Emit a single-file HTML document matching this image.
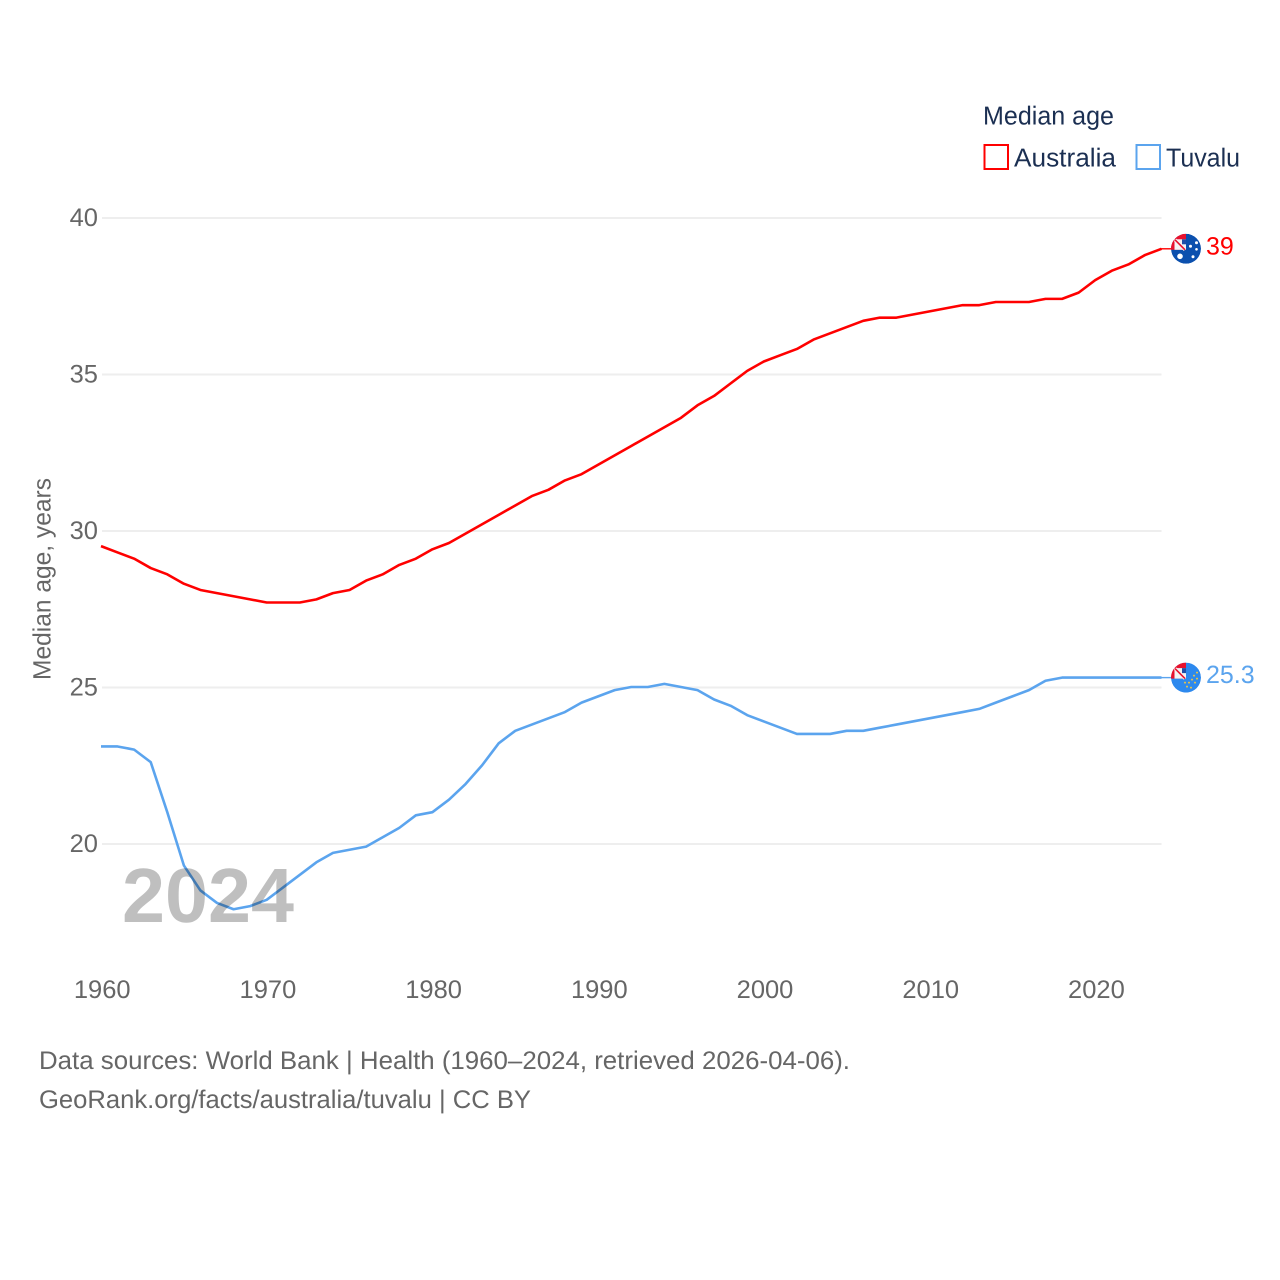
<!DOCTYPE html>
<html lang="en">
<head>
<meta charset="utf-8">
<title>Median age: Australia and Tuvalu</title>
<style>
html,body{margin:0;padding:0;background:#fff;width:1280px;height:1280px;overflow:hidden}
svg{display:block;font-family:"Liberation Sans",sans-serif;text-rendering:geometricPrecision}
</style>
</head>
<body>
<svg id="chart" xmlns="http://www.w3.org/2000/svg" width="1280" height="1280" viewBox="0 0 1280 1280">
  <defs>
    <clipPath id="flag-clip"><circle cx="0" cy="0" r="15"></circle></clipPath>
  </defs>
  <rect x="0" y="0" width="1280" height="1280" fill="#ffffff"></rect>
  <g id="grid"></g>
  <g id="y-ticks"></g>
  <g id="x-ticks"></g>
  <text transform="translate(50.5,680) rotate(-90)" font-size="25" fill="#666666" textLength="202" lengthAdjust="spacingAndGlyphs">Median age, years</text>
  <g id="series"></g>
  <text x="122" y="922" font-size="77" font-weight="700" fill="#000000" fill-opacity="0.25" textLength="172" lengthAdjust="spacingAndGlyphs">2024</text>
  <g id="end-labels"></g>

  <g>
    <text x="983" y="124.5" font-size="26" fill="#1b2f52" textLength="131" lengthAdjust="spacingAndGlyphs">Median age</text>
    <g>
      <rect x="984.5" y="145" width="23.5" height="24" fill="none" stroke="#ff0000" stroke-width="2"></rect>
      <text x="1014" y="166.5" font-size="26" fill="#1b2f52" textLength="102" lengthAdjust="spacingAndGlyphs">Australia</text>
    </g>
    <g>
      <rect x="1136.5" y="145" width="23.5" height="24" fill="none" stroke="#5ba4ee" stroke-width="2"></rect>
      <text x="1166" y="166.5" font-size="26" fill="#1b2f52" textLength="74" lengthAdjust="spacingAndGlyphs">Tuvalu</text>
    </g>
  </g>

  <text x="39" y="1069" font-size="25.5" fill="#666666" textLength="811" lengthAdjust="spacingAndGlyphs">Data sources: World Bank | Health (1960–2024, retrieved 2026-04-06).</text>
  <text x="39" y="1108" font-size="25.5" fill="#666666" textLength="492" lengthAdjust="spacingAndGlyphs">GeoRank.org/facts/australia/tuvalu | CC BY</text>
</svg>
<script>
const years = [1960,1961,1962,1963,1964,1965,1966,1967,1968,1969,1970,1971,1972,1973,1974,1975,1976,1977,1978,1979,1980,1981,1982,1983,1984,1985,1986,1987,1988,1989,1990,1991,1992,1993,1994,1995,1996,1997,1998,1999,2000,2001,2002,2003,2004,2005,2006,2007,2008,2009,2010,2011,2012,2013,2014,2015,2016,2017,2018,2019,2020,2021,2022,2023,2024];
const australiaValues = [29.5,29.3,29.1,28.8,28.6,28.3,28.1,28.0,27.9,27.8,27.7,27.7,27.7,27.8,28.0,28.1,28.4,28.6,28.9,29.1,29.4,29.6,29.9,30.2,30.5,30.8,31.1,31.3,31.6,31.8,32.1,32.4,32.7,33.0,33.3,33.6,34.0,34.3,34.7,35.1,35.4,35.6,35.8,36.1,36.3,36.5,36.7,36.8,36.8,36.9,37.0,37.1,37.2,37.2,37.3,37.3,37.3,37.4,37.4,37.6,38.0,38.3,38.5,38.8,39.0];
const tuvaluValues = [23.1,23.1,23.0,22.6,21.0,19.3,18.5,18.1,17.9,18.0,18.2,18.6,19.0,19.4,19.7,19.8,19.9,20.2,20.5,20.9,21.0,21.4,21.9,22.5,23.2,23.6,23.8,24.0,24.2,24.5,24.7,24.9,25.0,25.0,25.1,25.0,24.9,24.6,24.4,24.1,23.9,23.7,23.5,23.5,23.5,23.6,23.6,23.7,23.8,23.9,24.0,24.1,24.2,24.3,24.5,24.7,24.9,25.2,25.3,25.3,25.3,25.3,25.3,25.3,25.3];
const yTickValues = [20,25,30,35,40];
const xTickValues = [1960,1970,1980,1990,2000,2010,2020];

const SVG_NS = 'http://www.w3.org/2000/svg';
const plot = {left: 101, right: 1161.5, top: 217.5, bottom: 843.5};

function xScale(year) {
  return plot.left + (year - 1960) / (2024 - 1960) * (plot.right - plot.left);
}
function yScale(value) {
  return plot.bottom - (value - 20) / (40 - 20) * (plot.bottom - plot.top);
}
function make(tag, attrs, parent) {
  const node = document.createElementNS(SVG_NS, tag);
  Object.keys(attrs).forEach(function (k) { node.setAttribute(k, attrs[k]); });
  parent.appendChild(node);
  return node;
}

const gridGroup = document.getElementById('grid');
const yTickGroup = document.getElementById('y-ticks');
const xTickGroup = document.getElementById('x-ticks');
const seriesGroup = document.getElementById('series');
const endGroup = document.getElementById('end-labels');

yTickValues.forEach(function (v) {
  const line = make('line', {x1: plot.left + 1, x2: plot.right, y1: yScale(v) + 0.5, y2: yScale(v) + 0.5, stroke: '#eeeeee', 'stroke-width': 2}, gridGroup);
  
  
  const label = make('text', {x: 98, y: yScale(v) + 8.5, 'text-anchor': 'end', 'font-size': 25.5, fill: '#666666'}, yTickGroup);
  label.textContent = String(v);
  
  
});

xTickValues.forEach(function (y) {
  const label = make('text', {x: xScale(y) + 1.2, y: 998, 'text-anchor': 'middle', 'font-size': 25.5, fill: '#666666'}, xTickGroup);
  label.textContent = String(y);
  
  
});

function linePoints(values) {
  return values.map(function (v, i) {
    return xScale(years[i]).toFixed(2) + ',' + yScale(v).toFixed(2);
  }).join(' ');
}

const australiaLine = make('polyline', {points: linePoints(australiaValues), fill: 'none', stroke: '#ff0000', 'stroke-width': 2.6, 'stroke-linejoin': 'round'}, seriesGroup);



const tuvaluLine = make('polyline', {points: linePoints(tuvaluValues), fill: 'none', stroke: '#5ba4ee', 'stroke-width': 2.6, 'stroke-linejoin': 'round'}, seriesGroup);



function drawCanton(g) {
  make('rect', {x: -15, y: -15, width: 15, height: 16, fill: '#e8112d'}, g);
  make('rect', {x: -11.5, y: -9.5, width: 11.5, height: 10.5, fill: '#f4f4f4'}, g);
  make('rect', {x: -4, y: -9.5, width: 4, height: 5, fill: '#1f4fa8'}, g);
  make('line', {x1: -11, y1: -9, x2: -1, y2: 1, stroke: '#f4f4f4', 'stroke-width': 3.4}, g);
  make('line', {x1: -11, y1: -9, x2: -1, y2: 1, stroke: '#e8112d', 'stroke-width': 1.6}, g);
}

function drawEnd(values, color, flagColor, starColor, starList, key, lastText) {
  const last = values[values.length - 1];
  const cy = yScale(last);
  const leader = make('line', {x1: plot.right - 1, x2: 1172, y1: cy, y2: cy, stroke: color, 'stroke-width': 1.4}, endGroup);
  
  
  const flag = make('g', {transform: 'translate(1186,' + cy + ')', 'clip-path': 'url(#flag-clip)'}, endGroup);
  
  
  make('circle', {cx: 0, cy: 0, r: 15, fill: flagColor}, flag);
  drawCanton(flag);
  starList.forEach(function (s) {
    make('circle', {cx: s[0], cy: s[1], r: s[2], fill: starColor}, flag);
  });
  const label = make('text', {x: 1206, y: cy + 5.5, 'font-size': 25, fill: color}, endGroup);
  label.textContent = lastText;
  
  
}

drawEnd(australiaValues, '#ff0000', '#0b50ae', '#ffffff',
  [[-6,7.5,2.8],[4.5,-2.5,1.5],[10.5,-6,1.5],[10.5,0.5,1.3],[7,8,1.5]], 'australia', '39');
drawEnd(tuvaluValues, '#5ba4ee', '#2d89ee', '#e6c44a',
  [[11,-5,1],[8,-2,1],[11,1,1],[6,2,1],[3,5,1],[9,5,1],[1,9,1],[5,10,1],[-1,5,1]], 'tuvalu', '25.3');
</script>
</body>
</html>
